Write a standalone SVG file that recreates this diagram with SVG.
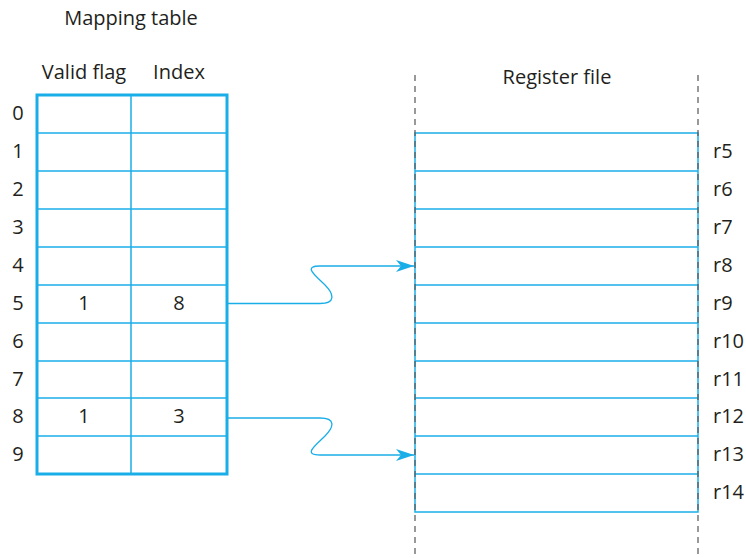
<svg xmlns="http://www.w3.org/2000/svg" width="746" height="558" viewBox="0 0 746 558">
<style>
text{font-family:"Open Sans","Liberation Sans",sans-serif;font-size:20px;fill:#231f20}
.c{text-anchor:middle}
.blue{stroke:#1aaee8;fill:none}
.dash{stroke:#555;stroke-width:1.2;stroke-dasharray:6,5;fill:none}
</style>
<defs>
<marker id="ah" markerWidth="20" markerHeight="12" refX="18" refY="6" orient="auto" markerUnits="userSpaceOnUse">
<path d="M0,0 L18,6 L0,12 L5,6 Z" fill="#1aaee8"/>
</marker>
</defs>
<g id="mapping-table">
<text class="c" x="131" y="25">Mapping table</text>
<text class="c" x="84" y="79">Valid flag</text>
<text class="c" x="179" y="79">Index</text>
<g class="blue" stroke-width="1.5">
<line x1="131" y1="95" x2="131" y2="474"/>
<line x1="37" y1="133" x2="227" y2="133"/>
<line x1="37" y1="171" x2="227" y2="171"/>
<line x1="37" y1="209" x2="227" y2="209"/>
<line x1="37" y1="247" x2="227" y2="247"/>
<line x1="37" y1="285" x2="227" y2="285"/>
<line x1="37" y1="323" x2="227" y2="323"/>
<line x1="37" y1="361" x2="227" y2="361"/>
<line x1="37" y1="398" x2="227" y2="398"/>
<line x1="37" y1="436" x2="227" y2="436"/>
</g>
<rect class="blue" x="37" y="95" width="190" height="379" stroke-width="3"/>
<g class="c">
<text x="18" y="120">0</text>
<text x="18" y="158">1</text>
<text x="18" y="196">2</text>
<text x="18" y="234">3</text>
<text x="18" y="272">4</text>
<text x="18" y="310">5</text>
<text x="18" y="348">6</text>
<text x="18" y="386">7</text>
<text x="18" y="423">8</text>
<text x="18" y="461">9</text>
<text x="84" y="310">1</text>
<text x="179" y="310">8</text>
<text x="84" y="423">1</text>
<text x="179" y="423">3</text>
</g>
</g>
<g id="register-file">
<text class="c" x="557" y="84">Register file</text>
<g class="blue" stroke-width="1.5">
<rect x="415" y="133" width="283" height="379"/>
<line x1="415" y1="171" x2="698" y2="171"/>
<line x1="415" y1="209" x2="698" y2="209"/>
<line x1="415" y1="247" x2="698" y2="247"/>
<line x1="415" y1="285" x2="698" y2="285"/>
<line x1="415" y1="323" x2="698" y2="323"/>
<line x1="415" y1="361" x2="698" y2="361"/>
<line x1="415" y1="398" x2="698" y2="398"/>
<line x1="415" y1="436" x2="698" y2="436"/>
<line x1="415" y1="474" x2="698" y2="474"/>
</g>
<line class="dash" x1="415" y1="75" x2="415" y2="558"/>
<line class="dash" x1="698" y1="75" x2="698" y2="558"/>
<text x="713" y="158">r5</text>
<text x="713" y="196">r6</text>
<text x="713" y="234">r7</text>
<text x="713" y="272">r8</text>
<text x="713" y="310">r9</text>
<text x="713" y="348">r10</text>
<text x="713" y="386">r11</text>
<text x="713" y="423">r12</text>
<text x="713" y="461">r13</text>
<text x="713" y="499">r14</text>
</g>
<g id="connectors" class="blue" stroke-width="1.3">
<path d="M227,303.5 H320 C336,303.5 334,294 325,285 C316,276 302,266 320,266 H414" marker-end="url(#ah)"/>
<path d="M227,418 H320 C336,418 334,427 325,436 C316,445 302,455 320,455 H414" marker-end="url(#ah)"/>
</g>
</svg>
